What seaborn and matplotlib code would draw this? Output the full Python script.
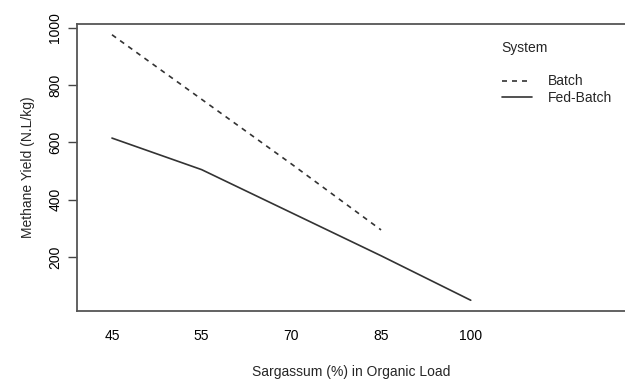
import pandas as pd
import matplotlib
matplotlib.use('Agg')
import matplotlib.pyplot as plt
import seaborn as sns

# sargassum share in organic load (categorical levels)
categories = ['45', '55', '70', '85', '100']
batch_load = ['45', '55', '70', '85']
batch_yield = [975, 750, 525, 295]
fed_load = ['45', '55', '70', '85', '100']
fed_yield = [615, 505, 355, 205, 50]

df = pd.concat([
    pd.DataFrame({'load': batch_load, 'yield': batch_yield, 'System': 'Batch'}),
    pd.DataFrame({'load': fed_load, 'yield': fed_yield, 'System': 'Fed-Batch'}),
], ignore_index=True)
df['pos'] = df['load'].map({c: i for i, c in enumerate(categories)})

sns.set_theme(style='white')
plt.rcParams['font.family'] = ['Liberation Sans', 'DejaVu Sans']

fig = plt.figure(figsize=(6.25, 3.79), dpi=100)
ax = fig.add_axes([0.1232, 0.1794, 0.8768, 0.7573])

sns.lineplot(data=df, x='pos', y='yield', style='System',
             dashes={'Batch': (3, 3), 'Fed-Batch': ''},
             color='#333333', linewidth=1.2, ax=ax)

ax.set_xlim(-0.39, 5.72)
ax.set_ylim(12.5, 1012.5)
ax.set_xticks(range(len(categories)))
ax.set_xticklabels(categories)
ax.set_yticks([200, 400, 600, 800, 1000])
ax.tick_params(axis='x', length=0, pad=13, labelsize=10, colors='black')
ax.tick_params(axis='y', left=True, length=6.5, width=1, color='#444444',
               pad=4, labelsize=10, labelcolor='black')
for lab in ax.get_yticklabels():
    lab.set_rotation(90)
    lab.set_va('center')

for side in ['left', 'bottom', 'top']:
    ax.spines[side].set_color('#555555')
    ax.spines[side].set_linewidth(1.3)
ax.spines['right'].set_visible(False)

ax.set_xlabel('Sargassum (%) in Organic Load', fontsize=10, labelpad=16)
ax.set_ylabel('Methane Yield (N.L/kg)', fontsize=10, labelpad=10)

handles, labels = ax.get_legend_handles_labels()
leg = ax.legend(handles, labels, title='System', loc='upper left',
                bbox_to_anchor=(0.765, 0.96), frameon=False, fontsize=10,
                title_fontsize=10, alignment='left', handlelength=2.2,
                handletextpad=1.1, labelspacing=0.2, borderaxespad=0)
leg._legend_box.sep = 14

plt.savefig('out.png', dpi=100)
